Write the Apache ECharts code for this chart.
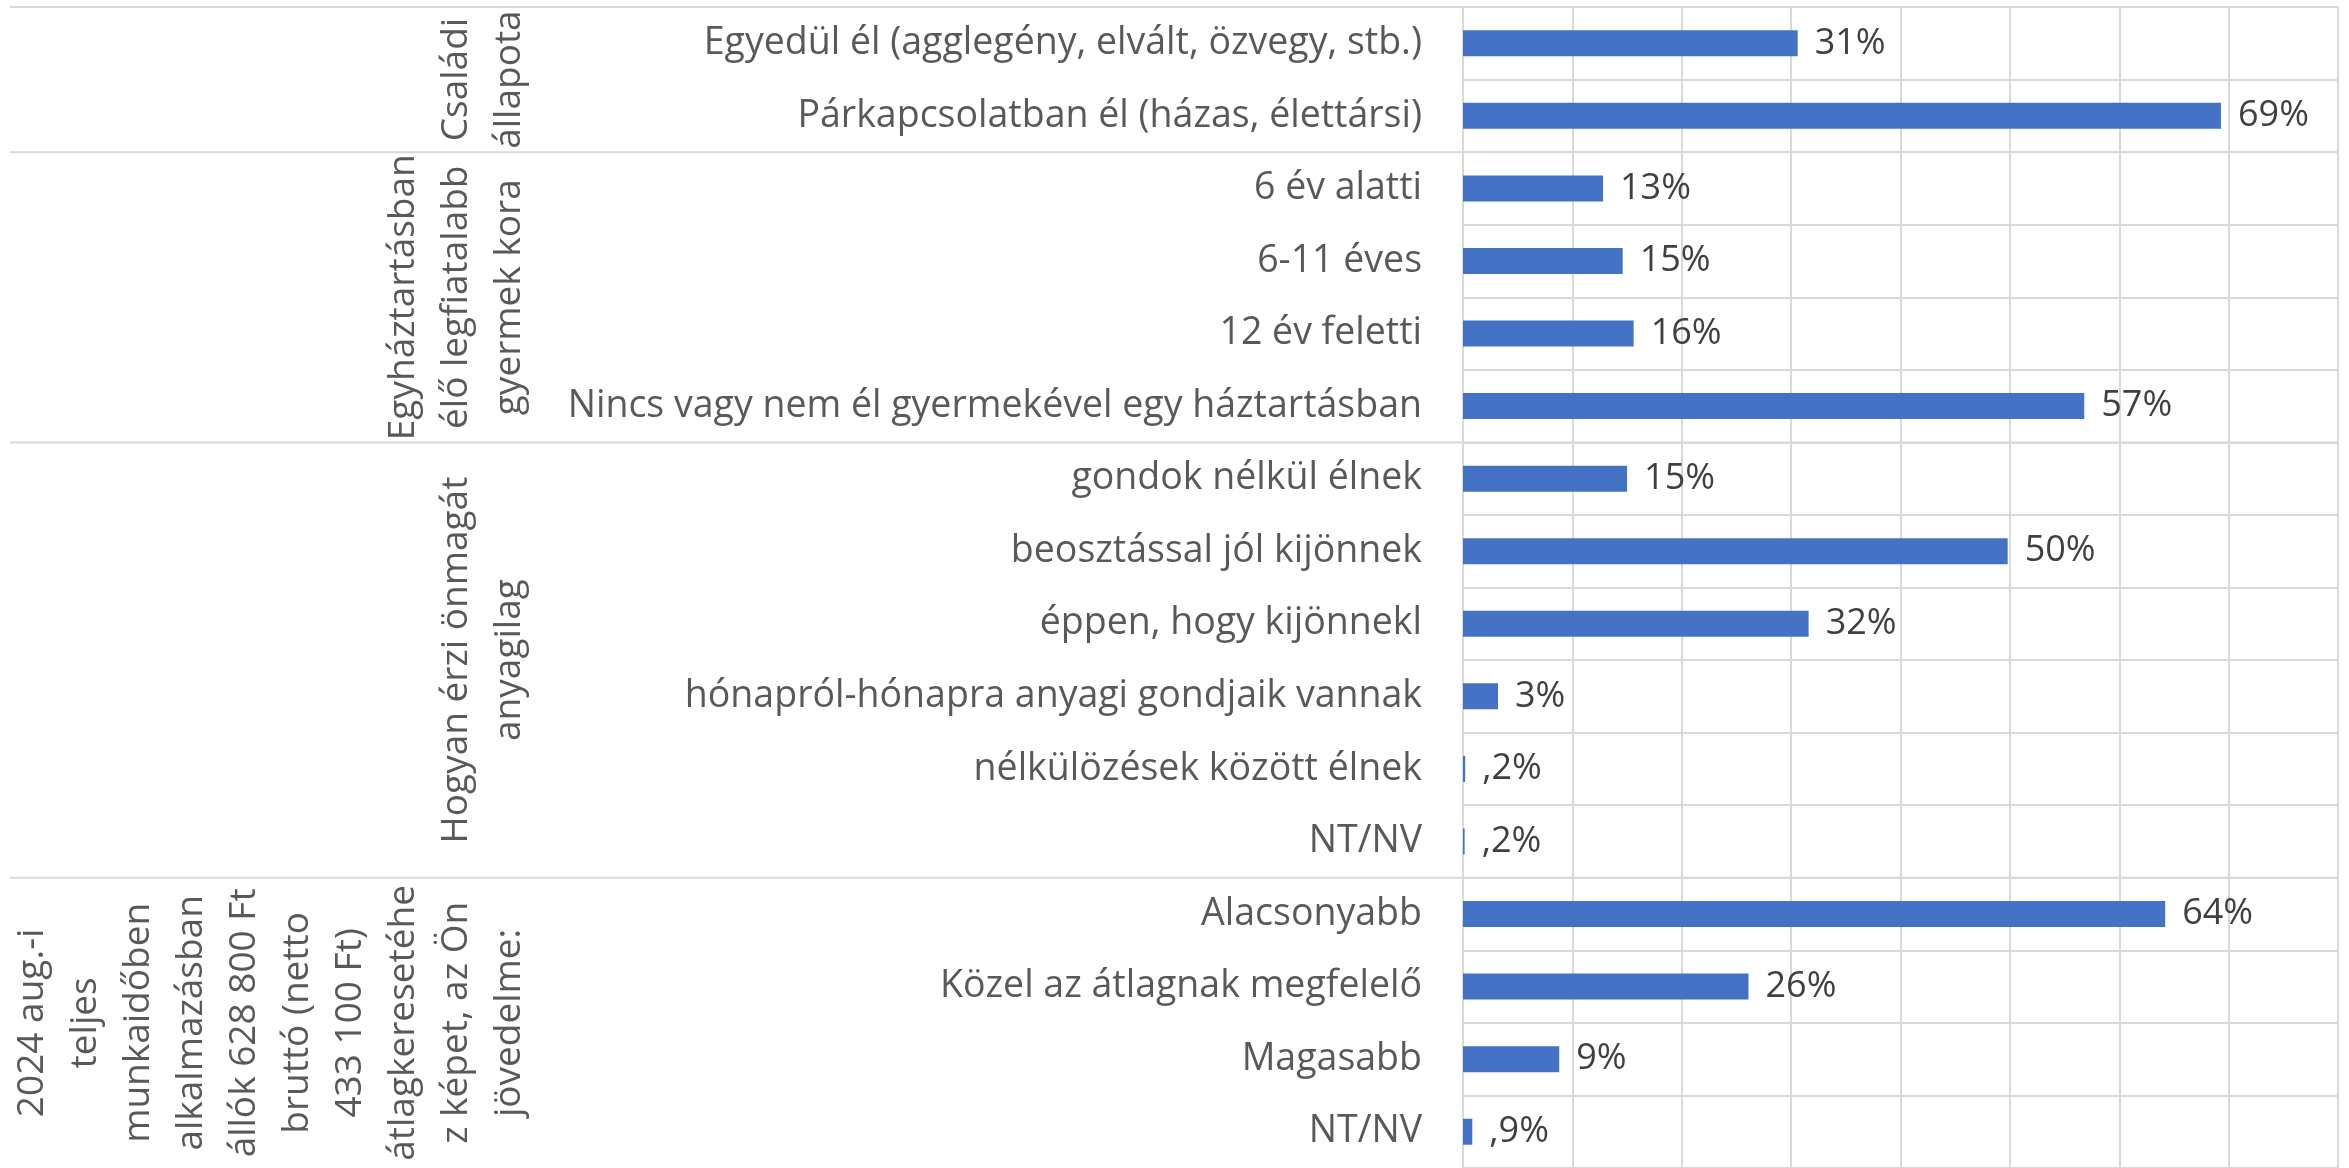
<!DOCTYPE html>
<html>
<head>
<meta charset="utf-8">
<script src="https://cdn.jsdelivr.net/npm/echarts@6/dist/echarts.min.js"></script>
<style>
html,body{margin:0;padding:0;background:#fff;}
#chart{width:2349px;height:1168px;}
</style>
</head>
<body>
<div id="chart"></div>
<script>
const categories = [
  "Egyedül él (agglegény, elvált, özvegy, stb.)",
  "Párkapcsolatban él (házas, élettársi)",
  "6 év alatti",
  "6-11 éves",
  "12 év feletti",
  "Nincs vagy nem él gyermekével egy háztartásban",
  "gondok nélkül élnek",
  "beosztással jól kijönnek",
  "éppen, hogy kijönnekl",
  "hónapról-hónapra anyagi gondjaik vannak",
  "nélkülözések között élnek",
  "NT/NV",
  "Alacsonyabb",
  "Közel az átlagnak megfelelő",
  "Magasabb",
  "NT/NV"
];
const values = [30.6, 69.3, 12.8, 14.6, 15.6, 56.8, 15.0, 49.8, 31.6, 3.2, 0.2, 0.15, 64.2, 26.1, 8.8, 0.85];

const groupNames = [
  "Családi\nállapota",
  "Egyháztartásban\nélő legfiatalabb\ngyermek kora",
  "Hogyan érzi önmagát\nanyagilag",
  "2024 aug.-i\nteljes\nmunkaidőben\nalkalmazásban\nállók 628 800 Ft\nbruttó (netto\n433 100 Ft)\nátlagkeresetéhe\nz képet, az Ön\njövedelme:"
];
const groupStart = [0, 2, 6, 12];
const groupEnd = [1, 5, 11, 15];

const xMin = 0, xMax = 80, xStep = 10;

const FONT = "'Open Sans', 'Noto Sans', sans-serif";
const GRID = '#D9D9D9';

const chart = echarts.init(document.getElementById('chart'));

const groupData = groupStart.map((s, i) => [0, s, groupEnd[i], i]);

function fmt(v) {
  return v >= 1 ? Math.round(v) + '%' : ',' + Math.max(1, Math.round(v * 10)) + '%';
}

chart.setOption({
  backgroundColor: '#ffffff',
  animation: false,
  grid: { left: 1463, right: 11, top: 7, bottom: -1, containLabel: false },
  xAxis: {
    type: 'value', min: xMin, max: xMax, interval: xStep,
    axisLabel: { show: false },
    axisLine: { show: false },
    axisTick: { show: false },
    splitLine: { show: true, lineStyle: { color: GRID, width: 2 } }
  },
  yAxis: {
    type: 'category', inverse: true, data: categories,
    axisLine: { show: true, lineStyle: { color: GRID, width: 2 } },
    axisTick: { show: false },
    axisLabel: { margin: 41, fontSize: 37.5, color: '#595959', fontFamily: FONT },
    splitLine: { show: true, interval: 0, lineStyle: { color: GRID, width: 2 } }
  },
  series: [
    {
      type: 'bar',
      data: values,
      barWidth: 26,
      itemStyle: { color: '#4472C4' },
      label: {
        show: true, position: 'right', distance: 17,
        fontSize: 36, color: '#404040', fontFamily: FONT,
        formatter: p => fmt(p.value)
      }
    },
    {
      type: 'custom',
      silent: true,
      clip: false,
      encode: { x: 0, y: 1 },
      data: groupData,
      renderItem: function (params, api) {
        const s = api.value(1), e = api.value(2), gi = api.value(3);
        const band = api.size([0, 1])[1];
        const top = api.coord([0, s])[1] - band / 2;
        const bot = api.coord([0, e])[1] + band / 2;
        const right = params.coordSys.x + params.coordSys.width;
        return {
          type: 'group',
          children: [
            {
              type: 'line',
              shape: { x1: 10, y1: top, x2: right, y2: top },
              style: { stroke: GRID, lineWidth: 2 }
            },
            {
              type: 'text',
              x: 536, y: (top + bot) / 2,
              rotation: Math.PI / 2,
              style: {
                text: groupNames[gi],
                align: 'center', verticalAlign: 'bottom',
                fontSize: 37, fontFamily: FONT, lineHeight: 53,
                fill: '#595959'
              }
            }
          ]
        };
      }
    }
  ]
});
</script>
</body>
</html>
